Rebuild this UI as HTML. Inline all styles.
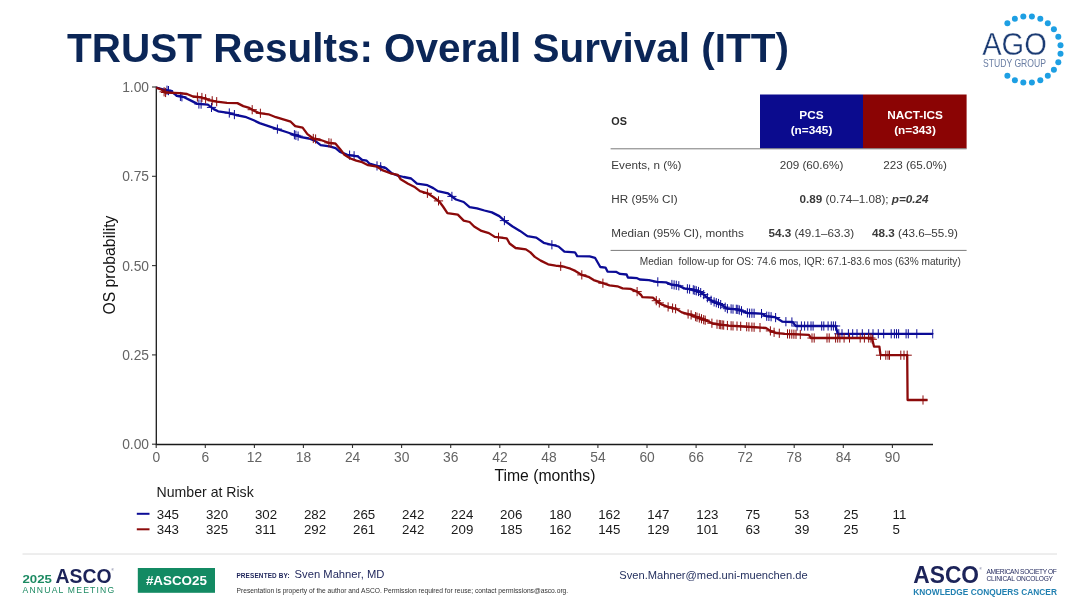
<!DOCTYPE html>
<html lang="en"><head><meta charset="utf-8"><title>TRUST Results: Overall Survival (ITT)</title>
<style>html,body{margin:0;padding:0;background:#fff}body{width:1080px;height:608px;overflow:hidden}svg{display:block}text{font-family:"Liberation Sans", Arial, Helvetica, sans-serif}</style></head><body>
<svg width="1080" height="608" viewBox="0 0 1080 608">
<rect width="1080" height="608" fill="#fff"/>
<text x="67.1" y="61.8" font-size="40.3" font-weight="bold" fill="#0b2657" textLength="721.8" lengthAdjust="spacingAndGlyphs">TRUST Results: Overall Survival (ITT)</text>
<g fill="#1d9fe3"><circle cx="1007.4" cy="23.2" r="3"/><circle cx="1014.9" cy="18.8" r="3"/><circle cx="1023.3" cy="16.6" r="3"/><circle cx="1031.9" cy="16.6" r="3"/><circle cx="1040.3" cy="18.8" r="3"/><circle cx="1047.8" cy="23.2" r="3"/><circle cx="1053.9" cy="29.3" r="3"/><circle cx="1058.3" cy="36.8" r="3"/><circle cx="1060.5" cy="45.2" r="3"/><circle cx="1060.5" cy="53.8" r="3"/><circle cx="1058.3" cy="62.2" r="3"/><circle cx="1053.9" cy="69.7" r="3"/><circle cx="1047.8" cy="75.8" r="3"/><circle cx="1040.3" cy="80.2" r="3"/><circle cx="1031.9" cy="82.4" r="3"/><circle cx="1023.3" cy="82.4" r="3"/><circle cx="1014.9" cy="80.2" r="3"/><circle cx="1007.4" cy="75.8" r="3"/></g>
<text x="982.2" y="55.2" font-size="31.6" fill="#1b3b73" textLength="64.6" lengthAdjust="spacingAndGlyphs" stroke="#fff" stroke-width="0.35">AGO</text>
<text x="983" y="66.6" font-size="10.3" fill="#6a7ea3" textLength="63" lengthAdjust="spacingAndGlyphs">STUDY GROUP</text>
<g stroke="#1a1a1a" stroke-width="1.3" fill="none">
<path d="M156.3 86.5V445.1"/><path d="M155.7 444.5H933"/>
</g>
<g stroke="#333" stroke-width="1.1">
<path d="M152 87H156"/>
<path d="M152 176.3H156"/>
<path d="M152 265.6H156"/>
<path d="M152 354.9H156"/>
<path d="M152 444.2H156"/>
<path d="M156.2 444.5V448"/>
<path d="M205.3 444.5V448"/>
<path d="M254.4 444.5V448"/>
<path d="M303.4 444.5V448"/>
<path d="M352.5 444.5V448"/>
<path d="M401.6 444.5V448"/>
<path d="M450.7 444.5V448"/>
<path d="M499.8 444.5V448"/>
<path d="M548.8 444.5V448"/>
<path d="M597.9 444.5V448"/>
<path d="M647.0 444.5V448"/>
<path d="M696.1 444.5V448"/>
<path d="M745.2 444.5V448"/>
<path d="M794.2 444.5V448"/>
<path d="M843.3 444.5V448"/>
<path d="M892.4 444.5V448"/>
</g>
<g font-size="13.8" fill="#646464">
<text x="149" y="91.9" text-anchor="end">1.00</text>
<text x="149" y="181.2" text-anchor="end">0.75</text>
<text x="149" y="270.5" text-anchor="end">0.50</text>
<text x="149" y="359.8" text-anchor="end">0.25</text>
<text x="149" y="449.1" text-anchor="end">0.00</text>
<text x="156.3" y="461.7" text-anchor="middle">0</text>
<text x="205.4" y="461.7" text-anchor="middle">6</text>
<text x="254.5" y="461.7" text-anchor="middle">12</text>
<text x="303.5" y="461.7" text-anchor="middle">18</text>
<text x="352.6" y="461.7" text-anchor="middle">24</text>
<text x="401.7" y="461.7" text-anchor="middle">30</text>
<text x="450.8" y="461.7" text-anchor="middle">36</text>
<text x="499.9" y="461.7" text-anchor="middle">42</text>
<text x="548.9" y="461.7" text-anchor="middle">48</text>
<text x="598.0" y="461.7" text-anchor="middle">54</text>
<text x="647.1" y="461.7" text-anchor="middle">60</text>
<text x="696.2" y="461.7" text-anchor="middle">66</text>
<text x="745.3" y="461.7" text-anchor="middle">72</text>
<text x="794.3" y="461.7" text-anchor="middle">78</text>
<text x="843.4" y="461.7" text-anchor="middle">84</text>
<text x="892.5" y="461.7" text-anchor="middle">90</text>
</g>
<text x="494.4" y="481.4" font-size="15.8" fill="#111" textLength="101" lengthAdjust="spacingAndGlyphs">Time (months)</text>
<text transform="translate(115.4,314.6) rotate(-90)" font-size="15.8" fill="#111" textLength="99" lengthAdjust="spacingAndGlyphs">OS probability</text>
<clipPath id="pc"><rect x="150" y="70" width="783.6" height="380"/></clipPath><g clip-path="url(#pc)">
<polyline points="156.2,87.6 164.8,89.8 170.7,91.0 176.7,95.7 184.1,97.2 191.5,100.9 197.4,103.9 207.8,104.6 213.7,109.1 218.1,111.3 228.5,112.8 235.9,115.0 246.3,117.2 253.7,120.2 259.6,123.1 268.5,126.1 277.4,129.1 286.3,132.0 295.2,135.0 301.1,137.2 308.9,138.5 314.8,140.7 320.7,145.2 329.6,146.4 335.6,148.1 340.0,151.9 347.4,154.8 357.8,156.3 362.2,160.0 366.7,160.7 369.6,163.7 377.0,165.9 385.9,168.1 391.9,173.3 397.8,175.6 403.7,177.0 411.1,178.5 417.0,183.7 427.4,185.2 433.3,188.1 437.8,191.1 448.1,193.3 452.6,197.0 456.0,199.5 463.7,202.0 469.6,207.2 477.0,208.4 484.4,210.5 491.9,212.4 499.3,216.1 505.2,221.3 512.6,226.5 520.0,230.9 527.4,236.1 536.3,237.6 543.7,242.8 552.6,245.0 558.5,246.5 564.4,251.7 574.8,252.4 575.3,252.8 577.2,256.1 589.7,256.4 595.0,257.8 600.3,267.0 605.5,267.6 607.5,271.6 616.0,271.8 620.0,273.9 626.6,274.5 627.9,277.5 637.1,278.2 639.7,279.5 648.9,280.1 656.8,281.8 666.0,282.4 671.1,284.3 678.5,285.7 684.4,288.4 691.9,289.4 699.3,291.7 703.7,294.6 708.1,298.3 712.6,301.3 718.5,303.5 723.0,305.7 727.4,308.7 737.8,309.4 743.7,311.7 748.1,313.1 761.5,313.6 765.9,316.1 774.8,317.1 779.3,319.8 782.2,321.6 792.6,322.0 795.6,325.7 796.0,326.0 835.6,326.0 837.7,333.8 932.8,333.8" fill="none" stroke="#0c0c96" stroke-width="2.3" stroke-linejoin="round"/>
<path d="M167.0 85.6V94.8M162.4 90.2H171.6M168.5 86.0V95.2M163.9 90.6H173.1M180.4 91.9V101.0M175.8 96.5H185.0M181.9 92.2V101.4M177.3 96.8H186.5M198.9 99.4V108.6M194.3 104.0H203.5M201.1 99.5V108.7M196.5 104.1H205.7M211.5 102.8V112.0M206.9 107.4H216.1M229.3 108.4V117.6M224.7 113.0H233.9M234.4 110.0V119.2M229.8 114.6H239.0M277.4 124.5V133.7M272.8 129.1H282.0M294.4 130.1V139.3M289.8 134.7H299.0M295.9 130.7V139.9M291.3 135.3H300.5M298.1 131.5V140.7M293.5 136.1H302.7M349.6 150.5V159.7M345.0 155.1H354.2M354.1 151.2V160.4M349.5 155.8H358.7M377.0 161.3V170.5M372.4 165.9H381.6M380.7 162.2V171.4M376.1 166.8H385.3M451.9 191.8V201.0M447.3 196.4H456.5M504.4 216.0V225.2M499.8 220.6H509.0M551.9 240.2V249.4M547.3 244.8H556.5M657.8 277.3V286.5M653.2 281.9H662.4M671.9 279.9V289.1M667.3 284.5H676.5M674.1 280.3V289.5M669.5 284.9H678.7M676.3 280.7V289.9M671.7 285.3H680.9M678.8 281.2V290.4M674.2 285.8H683.4M687.4 284.2V293.4M682.8 288.8H692.0M689.6 284.5V293.7M685.0 289.1H694.2M693.3 285.2V294.4M688.7 289.8H697.9M694.8 285.7V294.9M690.2 290.3H699.4M696.3 286.2V295.4M691.7 290.8H700.9M698.5 286.9V296.1M693.9 291.5H703.1M700.7 288.0V297.2M696.1 292.6H705.3M703.7 290.0V299.2M699.1 294.6H708.3M707.4 293.1V302.3M702.8 297.7H712.0M711.1 295.7V304.9M706.5 300.3H715.7M714.1 297.3V306.5M709.5 301.9H718.7M716.3 298.1V307.3M711.7 302.7H720.9M718.5 298.9V308.1M713.9 303.5H723.1M720.7 300.0V309.2M716.1 304.6H725.3M725.2 302.6V311.8M720.6 307.2H729.8M727.4 304.1V313.3M722.8 308.7H732.0M731.1 304.3V313.5M726.5 308.9H735.7M733.0 304.5V313.7M728.4 309.1H737.6M736.3 304.7V313.9M731.7 309.3H740.9M737.8 304.8V314.0M733.2 309.4H742.4M739.3 305.4V314.6M734.7 310.0H743.9M741.5 306.2V315.4M736.9 310.8H746.1M747.4 308.3V317.5M742.8 312.9H752.0M749.6 308.6V317.8M745.0 313.2H754.2M751.9 308.6V317.8M747.3 313.2H756.5M754.1 308.7V317.9M749.5 313.3H758.7M761.5 309.0V318.2M756.9 313.6H766.1M766.7 311.6V320.8M762.1 316.2H771.3M768.9 311.8V321.0M764.3 316.4H773.5M771.1 312.1V321.3M766.5 316.7H775.7M775.6 313.0V322.2M771.0 317.6H780.2M785.9 317.1V326.3M781.3 321.7H790.5M791.9 317.4V326.6M787.3 322.0H796.5M797.1 321.4V330.6M792.5 326.0H801.7M801.4 321.4V330.6M796.8 326.0H806.0M804.6 321.4V330.6M800.0 326.0H809.2M807.8 321.4V330.6M803.2 326.0H812.4M811.0 321.4V330.6M806.4 326.0H815.6M813.1 321.4V330.6M808.5 326.0H817.7M821.7 321.4V330.6M817.1 326.0H826.3M823.8 321.4V330.6M819.2 326.0H828.4M828.1 321.4V330.6M823.5 326.0H832.7M831.3 321.4V330.6M826.7 326.0H835.9M833.4 321.4V330.6M828.8 326.0H838.0M835.6 321.4V330.6M831.0 326.0H840.2M838.8 329.2V338.4M834.2 333.8H843.4M842.0 329.2V338.4M837.4 333.8H846.6M848.4 329.2V338.4M843.8 333.8H853.0M852.7 329.2V338.4M848.1 333.8H857.3M857.0 329.2V338.4M852.4 333.8H861.6M862.3 329.2V338.4M857.7 333.8H866.9M868.7 329.2V338.4M864.1 333.8H873.3M873.0 329.2V338.4M868.4 333.8H877.6M878.3 329.2V338.4M873.7 333.8H882.9M883.7 329.2V338.4M879.1 333.8H888.3M891.2 329.2V338.4M886.6 333.8H895.8M894.4 329.2V338.4M889.8 333.8H899.0M896.5 329.2V338.4M891.9 333.8H901.1M898.6 329.2V338.4M894.0 333.8H903.2M906.1 329.2V338.4M901.5 333.8H910.7M908.3 329.2V338.4M903.7 333.8H912.9M916.8 329.2V338.4M912.2 333.8H921.4M932.8 329.2V338.4M928.2 333.8H937.4" stroke="#0c0c96" stroke-width="1" fill="none"/>
<polyline points="156.2,87.6 161.9,89.8 164.8,92.5 179.6,93.1 187.0,94.0 193.0,96.5 201.9,97.5 209.3,100.2 216.7,101.7 227.0,102.9 237.4,103.1 243.3,106.1 249.3,107.9 253.7,110.6 259.6,113.2 268.5,114.3 275.9,117.2 283.3,119.4 290.7,121.7 295.2,126.1 302.6,127.6 307.4,134.1 313.3,138.5 320.7,140.0 329.6,143.0 335.6,143.7 340.0,148.9 344.4,154.8 350.4,158.5 356.3,160.7 362.2,162.2 368.1,165.2 377.0,166.7 383.0,170.4 390.4,173.3 397.8,174.8 400.7,179.3 408.1,183.7 414.1,186.7 420.0,191.1 427.4,193.3 433.3,197.0 439.3,201.5 443.0,206.5 447.4,213.1 457.8,214.6 463.7,220.6 469.6,222.0 474.1,226.5 481.5,230.9 488.9,233.1 494.8,236.9 506.7,238.3 509.6,243.5 515.6,248.0 525.9,249.4 530.4,252.4 534.8,256.9 540.7,260.6 548.1,264.3 555.6,265.7 563.0,266.5 570.4,268.7 575.3,270.9 581.8,274.9 588.4,276.8 593.7,280.1 602.9,283.2 609.5,285.4 617.4,286.3 622.6,288.4 630.5,288.9 637.1,291.6 641.1,295.0 642.4,297.2 652.9,297.6 656.8,301.2 662.1,304.7 668.7,307.1 676.6,309.1 681.8,312.4 690.4,314.6 696.3,316.9 702.2,319.1 708.1,321.3 712.6,323.5 720.0,324.6 728.9,325.7 743.7,326.5 765.9,328.0 770.4,330.9 776.3,333.1 785.0,333.8 808.9,334.9 811.0,338.0 872.0,338.0 874.0,346.6 879.4,346.6 880.5,355.2 907.2,355.2 907.6,400.0 927.5,400.0" fill="none" stroke="#8c0a0a" stroke-width="2.3" stroke-linejoin="round"/>
<path d="M164.1 87.2V96.4M159.5 91.8H168.7M165.6 87.9V97.1M161.0 92.5H170.2M197.4 92.4V101.6M192.8 97.0H202.0M201.9 92.9V102.1M197.3 97.5H206.5M205.6 94.2V103.4M201.0 98.8H210.2M212.2 96.2V105.4M207.6 100.8H216.8M216.7 97.1V106.3M212.1 101.7H221.3M252.2 105.1V114.3M247.6 109.7H256.8M260.4 108.7V117.9M255.8 113.3H265.0M313.3 133.9V143.1M308.7 138.5H317.9M315.6 134.4V143.6M311.0 139.0H320.2M328.9 138.2V147.4M324.3 142.8H333.5M331.1 138.6V147.8M326.5 143.2H335.7M427.4 188.7V197.9M422.8 193.3H432.0M438.5 196.3V205.5M433.9 200.9H443.1M498.5 232.7V241.9M493.9 237.3H503.1M560.7 261.7V270.9M556.1 266.3H565.3M581.8 270.3V279.5M577.2 274.9H586.4M602.9 278.6V287.8M598.3 283.2H607.5M637.1 287.0V296.2M632.5 291.6H641.7M656.3 296.1V305.3M651.7 300.7H660.9M659.3 298.3V307.5M654.7 302.9H663.9M668.1 302.3V311.5M663.5 306.9H672.7M672.6 303.5V312.7M668.0 308.1H677.2M675.6 304.2V313.4M671.0 308.8H680.2M688.1 309.4V318.6M683.5 314.0H692.7M691.1 310.3V319.5M686.5 314.9H695.7M695.6 312.0V321.2M691.0 316.6H700.2M697.0 312.6V321.8M692.4 317.2H701.6M699.3 313.4V322.6M694.7 318.0H703.9M701.5 314.2V323.4M696.9 318.8H706.1M703.7 315.1V324.3M699.1 319.7H708.3M705.2 315.6V324.8M700.6 320.2H709.8M711.9 318.6V327.8M707.3 323.2H716.5M717.0 319.6V328.8M712.4 324.2H721.6M719.3 319.9V329.1M714.7 324.5H723.9M720.7 320.1V329.3M716.1 324.7H725.3M722.2 320.3V329.5M717.6 324.9H726.8M723.7 320.5V329.7M719.1 325.1H728.3M727.4 320.9V330.1M722.8 325.5H732.0M731.1 321.2V330.4M726.5 325.8H735.7M733.0 321.3V330.5M728.4 325.9H737.6M737.0 321.5V330.7M732.4 326.1H741.6M740.7 321.7V330.9M736.1 326.3H745.3M746.7 322.1V331.3M742.1 326.7H751.3M748.9 322.3V331.5M744.3 326.9H753.5M751.9 322.5V331.7M747.3 327.1H756.5M754.1 322.6V331.8M749.5 327.2H758.7M760.0 323.0V332.2M755.4 327.6H764.6M770.4 326.3V335.5M765.8 330.9H775.0M774.1 327.7V336.9M769.5 332.3H778.7M779.3 328.7V337.9M774.7 333.3H783.9M787.5 329.3V338.5M782.9 333.9H792.1M789.6 329.4V338.6M785.0 334.0H794.2M791.8 329.5V338.7M787.2 334.1H796.4M793.9 329.6V338.8M789.3 334.2H798.5M796.0 329.7V338.9M791.4 334.3H800.6M800.3 329.9V339.1M795.7 334.5H804.9M812.0 333.4V342.6M807.4 338.0H816.6M814.2 333.4V342.6M809.6 338.0H818.8M827.0 333.4V342.6M822.4 338.0H831.6M829.2 333.4V342.6M824.6 338.0H833.8M835.6 333.4V342.6M831.0 338.0H840.2M837.7 333.4V342.6M833.1 338.0H842.3M839.9 333.4V342.6M835.3 338.0H844.5M844.1 333.4V342.6M839.5 338.0H848.7M849.5 333.4V342.6M844.9 338.0H854.1M860.2 333.4V342.6M855.6 338.0H864.8M864.4 333.4V342.6M859.8 338.0H869.0M868.7 333.4V342.6M864.1 338.0H873.3M870.9 333.4V342.6M866.3 338.0H875.5M872.3 334.7V343.9M867.7 339.3H876.9M880.5 350.6V359.8M875.9 355.2H885.1M885.8 350.6V359.8M881.2 355.2H890.4M888.0 350.6V359.8M883.4 355.2H892.6M889.5 350.6V359.8M884.9 355.2H894.1M900.8 350.6V359.8M896.2 355.2H905.4M904.0 350.6V359.8M899.4 355.2H908.6M907.2 350.6V359.8M902.6 355.2H911.8M923.0 395.4V404.6M918.4 400.0H927.6" stroke="#8c0a0a" stroke-width="1" fill="none"/>
</g>
<rect x="760" y="94.5" width="103" height="54" fill="#0b0b8e"/>
<rect x="863" y="94.5" width="103.6" height="54" fill="#8b0404"/>
<path d="M610.6 148.8H966.6M610.6 250.4H966.6" stroke="#7a7a7a" stroke-width="1"/>
<g font-size="11.8" font-weight="bold" fill="#fff" text-anchor="middle">
<text x="811.5" y="119">PCS</text><text x="811.5" y="133.6">(n=345)</text>
<text x="915" y="119">NACT-ICS</text><text x="915" y="133.6">(n=343)</text>
</g>
<text x="611.3" y="125" font-size="10.8" font-weight="bold" fill="#2b2b2b">OS</text>
<g font-size="11.7" fill="#3a3a3a">
<text x="611.3" y="169.4">Events, n (%)</text>
<text x="611.3" y="202.9">HR (95% CI)</text>
<text x="611.3" y="237.4">Median (95% CI), months</text>
<text x="811.5" y="169.4" text-anchor="middle">209 (60.6%)</text>
<text x="915" y="169.4" text-anchor="middle">223 (65.0%)</text>
<text x="864" y="202.9" text-anchor="middle"><tspan font-weight="bold">0.89</tspan> (0.74–1.08); <tspan font-weight="bold" font-style="italic">p=0.24</tspan></text>
<text x="811.3" y="237.4" text-anchor="middle"><tspan font-weight="bold">54.3</tspan> (49.1–63.3)</text>
<text x="915" y="237.4" text-anchor="middle"><tspan font-weight="bold">48.3</tspan> (43.6–55.9)</text>
</g>
<text x="639.8" y="265" font-size="10.1" fill="#3a3a3a" xml:space="preserve" textLength="321" lengthAdjust="spacingAndGlyphs">Median  follow-up for OS: 74.6 mos, IQR: 67.1-83.6 mos (63% maturity)</text>
<text x="156.6" y="497.1" font-size="14.1" fill="#1a1a1a">Number at Risk</text>
<path d="M136.8 513.8H149.5" stroke="#0c0c96" stroke-width="2"/>
<path d="M136.8 529.3H149.5" stroke="#8c0a0a" stroke-width="2"/>
<g font-size="13.3" fill="#1a1a1a">
<text x="156.8" y="518.6">345</text><text x="156.8" y="534">343</text>
<text x="205.9" y="518.6">320</text><text x="205.9" y="534">325</text>
<text x="254.9" y="518.6">302</text><text x="254.9" y="534">311</text>
<text x="303.9" y="518.6">282</text><text x="303.9" y="534">292</text>
<text x="353.0" y="518.6">265</text><text x="353.0" y="534">261</text>
<text x="402.1" y="518.6">242</text><text x="402.1" y="534">242</text>
<text x="451.1" y="518.6">224</text><text x="451.1" y="534">209</text>
<text x="500.1" y="518.6">206</text><text x="500.1" y="534">185</text>
<text x="549.2" y="518.6">180</text><text x="549.2" y="534">162</text>
<text x="598.2" y="518.6">162</text><text x="598.2" y="534">145</text>
<text x="647.3" y="518.6">147</text><text x="647.3" y="534">129</text>
<text x="696.3" y="518.6">123</text><text x="696.3" y="534">101</text>
<text x="745.4" y="518.6">75</text><text x="745.4" y="534">63</text>
<text x="794.5" y="518.6">53</text><text x="794.5" y="534">39</text>
<text x="843.5" y="518.6">25</text><text x="843.5" y="534">25</text>
<text x="892.5" y="518.6">11</text><text x="892.5" y="534">5</text>
</g>
<path d="M22.5 554H1057" stroke="#dcdcdc" stroke-width="1"/>
<text x="22.5" y="582.6" font-size="11.8" font-weight="bold" fill="#1c8a62" textLength="29.4" lengthAdjust="spacingAndGlyphs">2025</text>
<text x="55.6" y="582.6" font-size="20.8" font-weight="bold" fill="#1c2359" textLength="56" lengthAdjust="spacingAndGlyphs">ASCO</text>
<text x="111.6" y="571" font-size="3" fill="#1c2359">®</text>
<text x="22.5" y="592.9" font-size="8.6" fill="#1c8a62" textLength="91.7" lengthAdjust="spacing">ANNUAL MEETING</text>
<rect x="137.8" y="568" width="77.2" height="24.8" fill="#138a63"/>
<text x="176.4" y="585.3" font-size="13.4" font-weight="bold" fill="#fff" text-anchor="middle">#ASCO25</text>
<text x="236.4" y="577.9" font-size="6.4" font-weight="bold" fill="#1c2359" textLength="53.3" lengthAdjust="spacing">PRESENTED BY:</text>
<text x="294.6" y="578.4" font-size="11.4" fill="#1c2359" textLength="89.8" lengthAdjust="spacingAndGlyphs">Sven Mahner, MD</text>
<text x="236.6" y="593.2" font-size="6.65" fill="#333" textLength="331.6" lengthAdjust="spacingAndGlyphs">Presentation is property of the author and ASCO. Permission required for reuse; contact permissions@asco.org.</text>
<text x="619.3" y="578.5" font-size="11.4" fill="#24305f" textLength="188.4" lengthAdjust="spacingAndGlyphs">Sven.Mahner@med.uni-muenchen.de</text>
<text x="913.3" y="583.1" font-size="24" font-weight="bold" fill="#1c2359" textLength="65.7" lengthAdjust="spacingAndGlyphs">ASCO</text>
<text x="979.4" y="570.4" font-size="3" fill="#1c2359">®</text>
<text x="986.5" y="573.7" font-size="6.6" fill="#1c2359" textLength="70.4" lengthAdjust="spacing">AMERICAN SOCIETY OF</text>
<text x="986.5" y="581.1" font-size="6.6" fill="#1c2359" textLength="66.5" lengthAdjust="spacing">CLINICAL ONCOLOGY</text>
<text x="913.3" y="594.6" font-size="8.3" font-weight="bold" fill="#1f7fb0" textLength="143.6" lengthAdjust="spacing">KNOWLEDGE CONQUERS CANCER</text>
</svg></body></html>
